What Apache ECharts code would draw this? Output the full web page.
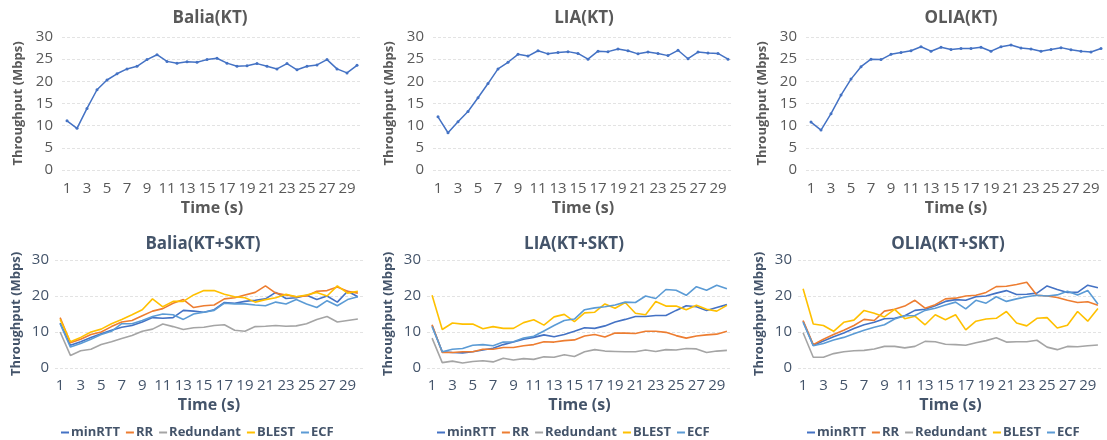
<!DOCTYPE html>
<html>
<head>
<meta charset="utf-8">
<script src="https://cdn.jsdelivr.net/npm/echarts@6/dist/echarts.min.js"></script>
<style>
  html, body { margin: 0; padding: 0; background: #fff; }
  #chart { width: 1107px; height: 440px; }
</style>
</head>
<body>
<div id="chart"></div>
<script>
// Time axis (seconds)
const seconds = Array.from({ length: 30 }, (_, i) => String(i + 1));

// Single path (KT) throughput, Mbps
const baliaKT = [11.1, 9.4, 13.9, 18.1, 20.3, 21.7, 22.8, 23.4, 24.9, 26.0, 24.5, 24.1, 24.4, 24.3, 24.9, 25.2, 24.1, 23.4, 23.5, 24.0, 23.4, 22.8, 24.0, 22.6, 23.4, 23.7, 24.9, 22.8, 21.9, 23.6];
const liaKT = [12.0, 8.4, 10.9, 13.2, 16.3, 19.5, 22.8, 24.3, 26.1, 25.7, 26.9, 26.2, 26.5, 26.7, 26.3, 25.0, 26.8, 26.7, 27.3, 26.9, 26.2, 26.6, 26.3, 25.8, 27.0, 25.1, 26.6, 26.4, 26.3, 25.0];
const oliaKT = [10.8, 9.0, 12.7, 16.9, 20.5, 23.3, 25.0, 24.9, 26.1, 26.5, 26.9, 27.8, 26.8, 27.7, 27.2, 27.4, 27.4, 27.7, 26.8, 27.8, 28.2, 27.5, 27.3, 26.8, 27.2, 27.6, 27.1, 26.8, 26.6, 27.4];

// Two paths (KT+SKT) throughput per scheduler, Mbps
const schedulers = ['minRTT', 'RR', 'Redundant', 'BLEST', 'ECF'];

const baliaMinRTT = [12.5, 6.3, 7.3, 8.5, 9.5, 10.5, 11.3, 11.8, 12.8, 14.0, 13.8, 14.0, 16.0, 15.8, 15.5, 16.2, 18.2, 18.0, 18.5, 18.8, 19.2, 21.0, 19.3, 19.5, 20.2, 19.0, 20.0, 18.3, 21.3, 19.8];
const baliaRR = [14.0, 7.0, 8.0, 9.3, 10.0, 11.5, 12.8, 13.2, 14.5, 15.8, 16.5, 18.0, 19.0, 16.8, 17.3, 17.5, 19.2, 19.5, 20.3, 21.0, 22.8, 20.8, 20.3, 19.8, 20.0, 21.3, 21.5, 22.5, 21.3, 20.8];
const baliaRedundant = [10.0, 3.5, 4.8, 5.2, 6.5, 7.3, 8.2, 9.0, 10.2, 10.8, 12.2, 11.5, 10.7, 11.2, 11.3, 11.8, 12.0, 10.5, 10.2, 11.5, 11.6, 11.8, 11.6, 11.7, 12.3, 13.5, 14.3, 12.8, 13.2, 13.6];
const baliaBLEST = [13.5, 7.3, 8.5, 10.0, 10.8, 12.3, 13.5, 14.8, 16.2, 19.2, 17.0, 18.5, 18.5, 20.3, 21.5, 21.5, 20.5, 19.8, 19.5, 18.3, 19.0, 19.5, 20.5, 19.8, 20.3, 21.0, 20.0, 22.8, 20.8, 21.3];
const baliaECF = [12.3, 5.8, 6.8, 8.0, 9.3, 10.2, 12.3, 12.3, 13.2, 14.3, 15.0, 14.8, 13.5, 15.0, 15.5, 16.0, 18.0, 17.8, 17.8, 17.5, 17.3, 18.3, 17.8, 19.0, 17.8, 16.8, 18.7, 17.3, 19.0, 19.8];

const liaMinRTT = [11.8, 4.5, 4.3, 4.2, 4.5, 5.0, 5.5, 6.5, 7.2, 8.0, 8.5, 9.2, 8.7, 9.3, 10.2, 11.2, 11.0, 11.7, 12.8, 13.5, 14.3, 14.3, 14.6, 14.6, 16.0, 17.3, 17.0, 16.0, 16.8, 17.6];
const liaRR = [12.0, 4.3, 4.3, 4.5, 4.5, 5.2, 5.2, 5.7, 5.7, 6.2, 6.5, 7.3, 7.2, 7.6, 7.8, 8.9, 9.3, 8.6, 9.7, 9.7, 9.6, 10.2, 10.2, 9.9, 9.0, 8.3, 8.9, 9.2, 9.4, 10.2];
const liaRedundant = [8.3, 1.5, 1.9, 1.4, 1.8, 2.0, 1.7, 2.7, 2.2, 2.6, 2.4, 3.1, 3.0, 3.7, 3.2, 4.5, 5.1, 4.7, 4.6, 4.5, 4.5, 5.0, 4.6, 5.1, 5.0, 5.4, 5.3, 4.3, 4.7, 4.9];
const liaBLEST = [20.2, 10.7, 12.5, 12.2, 12.2, 10.9, 11.5, 11.0, 11.0, 12.6, 13.4, 11.9, 14.2, 14.9, 12.9, 15.3, 15.5, 17.8, 16.6, 18.2, 15.2, 14.8, 18.5, 17.2, 17.2, 16.2, 17.4, 16.3, 15.8, 17.4];
const liaECF = [11.5, 4.5, 5.2, 5.4, 6.3, 6.5, 6.2, 7.2, 7.3, 8.3, 8.8, 10.3, 11.8, 13.2, 13.6, 16.2, 16.7, 17.0, 17.5, 18.3, 18.2, 20.0, 19.3, 21.8, 21.6, 20.2, 22.6, 21.6, 23.0, 22.0];

const oliaMinRTT = [13.0, 6.3, 7.5, 8.7, 9.7, 11.0, 12.0, 12.7, 13.7, 13.8, 14.5, 16.0, 16.3, 17.3, 18.5, 19.0, 18.8, 19.8, 20.0, 20.8, 21.5, 20.4, 20.5, 20.8, 22.8, 21.8, 21.0, 21.0, 23.0, 22.3];
const oliaRR = [13.2, 6.5, 8.0, 9.3, 10.5, 11.8, 13.5, 13.2, 15.8, 16.3, 17.2, 18.8, 16.6, 17.6, 19.2, 19.4, 20.0, 20.2, 21.0, 22.6, 22.7, 23.2, 23.8, 20.2, 20.0, 19.6, 18.8, 18.2, 18.4, 17.4];
const oliaRedundant = [9.8, 3.0, 3.0, 4.0, 4.5, 4.8, 4.9, 5.3, 6.0, 6.0, 5.6, 6.0, 7.4, 7.3, 6.6, 6.5, 6.3, 7.0, 7.6, 8.4, 7.2, 7.3, 7.3, 7.7, 5.8, 5.1, 6.0, 5.9, 6.2, 6.4];
const oliaBLEST = [22.0, 12.2, 11.8, 10.2, 12.7, 13.3, 16.0, 15.2, 14.2, 16.3, 13.7, 14.4, 12.0, 14.8, 13.4, 14.8, 10.6, 13.0, 13.6, 13.8, 15.7, 12.5, 11.7, 13.8, 14.0, 11.1, 11.9, 15.7, 13.0, 16.5];
const oliaECF = [12.7, 6.2, 6.8, 7.8, 8.5, 9.5, 10.5, 11.3, 12.0, 13.6, 14.5, 14.6, 16.0, 16.6, 17.5, 18.3, 16.4, 18.8, 18.0, 19.8, 18.5, 19.2, 19.8, 20.2, 20.0, 20.3, 21.3, 20.3, 21.5, 17.8];

const topTitles = ['Balia(KT)', 'LIA(KT)', 'OLIA(KT)'];
const bottomTitles = ['Balia(KT+SKT)', 'LIA(KT+SKT)', 'OLIA(KT+SKT)'];

const schedColors = ['#4472C4', '#ED7D31', '#A5A5A5', '#FFC000', '#5B9BD5'];
const FONT = '"Open Sans", "Noto Sans", sans-serif';
const GRAY = '#595959';
const SLATE = '#44546A';

// Plot areas: three on top, three below
const grids = [
  { left: 62, top: 37, width: 300, height: 133 },
  { left: 433, top: 37, width: 300, height: 133 },
  { left: 806, top: 37, width: 300, height: 133 },
  { left: 55, top: 260, width: 308, height: 108 },
  { left: 427, top: 260, width: 305, height: 108 },
  { left: 798, top: 260, width: 305, height: 108 }
];

const xAxes = grids.map((g, i) => {
  const top = i < 3;
  return {
    type: 'category',
    gridIndex: i,
    data: seconds,
    boundaryGap: true,
    axisLine: { show: false },
    axisTick: { show: false },
    axisLabel: {
      interval: 1,
      margin: top ? 11 : 10,
      color: top ? GRAY : SLATE,
      fontSize: 15,
      fontFamily: FONT
    },
    name: 'Time (s)',
    nameLocation: 'middle',
    nameGap: top ? 30 : 29,
    nameTextStyle: {
      color: top ? GRAY : SLATE,
      fontSize: 16,
      fontWeight: 'bold',
      fontFamily: FONT
    }
  };
});

const yAxes = grids.map((g, i) => {
  const top = i < 3;
  return {
    type: 'value',
    gridIndex: i,
    min: 0,
    max: 30,
    interval: top ? 5 : 10,
    axisLine: { show: false },
    axisTick: { show: false },
    splitLine: { lineStyle: { color: '#E3E3E3', type: [3, 2], width: 1 } },
    axisLabel: {
      margin: top ? 9 : 6,
      color: top ? GRAY : SLATE,
      fontSize: 15,
      fontFamily: FONT
    },
    name: 'Throughput (Mbps)',
    nameLocation: 'middle',
    nameGap: top ? 37 : 32,
    nameTextStyle: {
      color: top ? GRAY : SLATE,
      fontSize: 13,
      fontWeight: 'bold',
      fontFamily: FONT
    }
  };
});

const series = [];
[baliaKT, liaKT, oliaKT].forEach((vals, i) => {
  series.push({
    name: topTitles[i],
    type: 'line',
    xAxisIndex: i,
    yAxisIndex: i,
    data: vals,
    symbol: 'circle',
    symbolSize: 3,
    showSymbol: true,
    itemStyle: { color: '#4472C4' },
    lineStyle: { color: '#4472C4', width: 1.5 },
    animation: false
  });
});

const bottomSets = [
  [baliaMinRTT, baliaRR, baliaRedundant, baliaBLEST, baliaECF],
  [liaMinRTT, liaRR, liaRedundant, liaBLEST, liaECF],
  [oliaMinRTT, oliaRR, oliaRedundant, oliaBLEST, oliaECF]
];
bottomSets.forEach((set, p) => {
  set.forEach((vals, k) => {
    series.push({
      name: schedulers[k],
      type: 'line',
      xAxisIndex: 3 + p,
      yAxisIndex: 3 + p,
      data: vals,
      showSymbol: false,
      itemStyle: { color: schedColors[k] },
      lineStyle: { color: schedColors[k], width: 1.6 },
      animation: false
    });
  });
});

const legendLefts = [56, 432, 802];
const legends = legendLefts.map(l => ({
  data: schedulers,
  left: l,
  top: 421,
  icon: 'rect',
  itemWidth: 8,
  itemHeight: 2,
  itemGap: 6,
  selectedMode: false,
  textStyle: {
    color: SLATE,
    fontSize: 13,
    fontWeight: 'bold',
    fontFamily: FONT,
    padding: [0, 0, 0, -3]
  }
}));

// Panel headings, centred over each plot
const titleCenters = [
  { x: 210, y: 18, text: topTitles[0], c: GRAY },
  { x: 584, y: 18, text: topTitles[1], c: GRAY },
  { x: 961, y: 18, text: topTitles[2], c: GRAY },
  { x: 203, y: 244, text: bottomTitles[0], c: SLATE },
  { x: 574, y: 244, text: bottomTitles[1], c: SLATE },
  { x: 948, y: 244, text: bottomTitles[2], c: SLATE }
];
const graphics = titleCenters.map(t => ({
  type: 'text',
  x: t.x,
  y: t.y,
  style: {
    text: t.text,
    fill: t.c,
    font: 'bold 17px ' + FONT,
    textAlign: 'center',
    textVerticalAlign: 'middle'
  }
}));

const chart = echarts.init(document.getElementById('chart'), null, { renderer: 'canvas' });
chart.setOption({
  backgroundColor: '#ffffff',
  animation: false,
  grid: grids,
  xAxis: xAxes,
  yAxis: yAxes,
  legend: legends,
  graphic: graphics,
  series: series
});
</script>
</body>
</html>
